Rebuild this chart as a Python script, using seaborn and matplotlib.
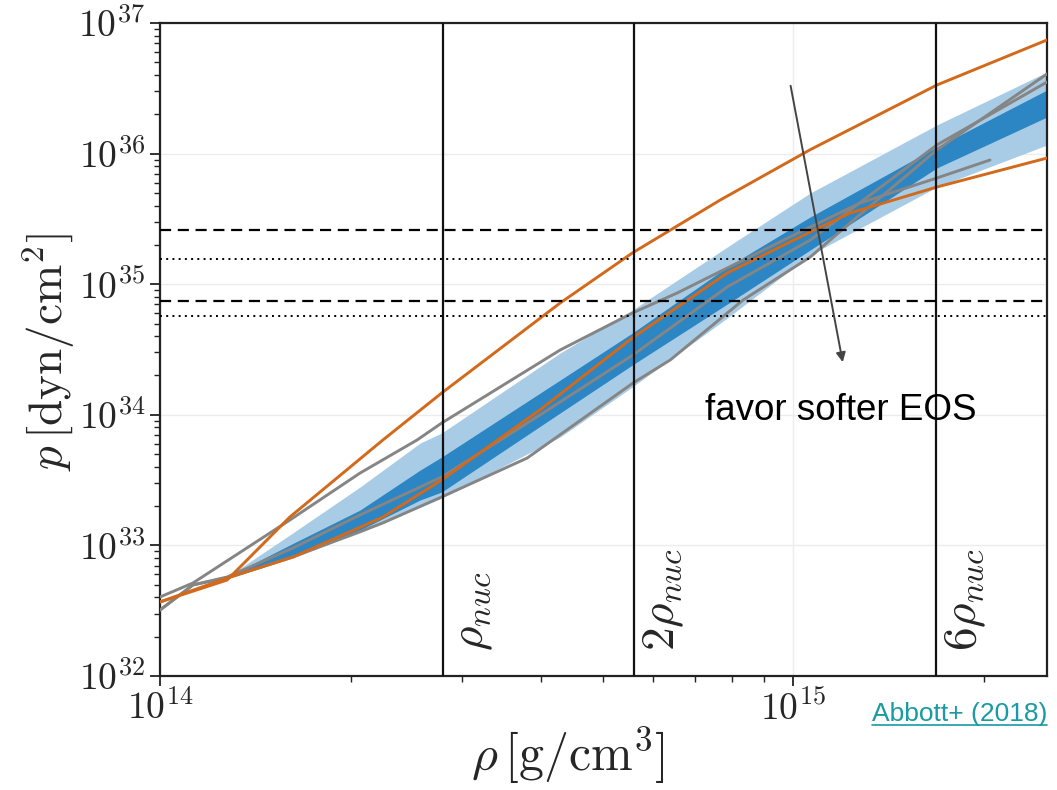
import numpy as np
import pandas as pd
import matplotlib
matplotlib.use("Agg")
import matplotlib.pyplot as plt
import seaborn as sns
from matplotlib.lines import Line2D
from matplotlib.ticker import FixedLocator, FuncFormatter, LogLocator, NullFormatter

# ---------------- data (log10 rho [g/cm^3], log10 p [dyn/cm^2]) ----------------
stiff_lrho = [14.0, 14.106, 14.205, 14.352, 14.445, 14.632, 14.746, 14.885, 15.027, 15.227, 15.401]
stiff_lp   = [32.567, 32.735, 33.217, 33.807, 34.167, 34.856, 35.239, 35.645, 36.030, 36.525, 36.870]

soft_lrho = [14.0, 14.106, 14.210, 14.352, 14.445, 14.600, 14.746, 14.896, 15.027, 15.090, 15.227, 15.401]
soft_lp   = [32.567, 32.750, 32.911, 33.217, 33.501, 34.037, 34.588, 35.086, 35.400, 35.545, 35.744, 35.966]

grayA_lrho = [14.0, 14.052, 14.205, 14.316, 14.406, 14.445, 14.632, 14.746, 14.817, 14.896, 15.011, 15.106, 15.227, 15.311]
grayA_lp   = [32.605, 32.712, 33.194, 33.554, 33.807, 33.937, 34.496, 34.779, 34.933, 35.124, 35.400, 35.622, 35.813, 35.951]

grayB_lrho = [14.0, 14.052, 14.106, 14.210, 14.316, 14.445, 14.600, 14.747, 14.896, 15.027, 15.227, 15.401]
grayB_lp   = [32.505, 32.697, 32.758, 32.980, 33.233, 33.524, 33.998, 34.458, 34.979, 35.338, 36.066, 36.548]

grayC_lrho = [14.0, 14.052, 14.111, 14.210, 14.352, 14.445, 14.580, 14.747, 14.806, 14.921, 15.027, 15.090, 15.227, 15.401]
grayC_lp   = [32.505, 32.697, 32.758, 32.911, 33.172, 33.371, 33.669, 34.243, 34.420, 34.879, 35.208, 35.469, 36.028, 36.610]

band_lrho   = [14.106, 14.205, 14.316, 14.411, 14.445, 14.632, 14.746, 14.896, 15.027, 15.227, 15.401]
band90_hi   = [32.758, 33.080, 33.447, 33.784, 33.861, 34.473, 34.802, 35.285, 35.698, 36.219, 36.625]
band90_lo   = [32.758, 32.904, 33.095, 33.294, 33.363, 33.830, 34.213, 34.741, 35.224, 35.744, 36.066]
band50_hi   = [32.758, 33.003, 33.271, 33.577, 33.677, 34.266, 34.626, 35.132, 35.515, 36.051, 36.487]
band50_lo   = [32.758, 32.911, 33.118, 33.348, 33.409, 34.014, 34.381, 34.848, 35.262, 35.890, 36.280]

rho_nuc = 2.8e14
nuc_multiples = [1, 2, 6]
nuc_labels = [r"$\rho_{nuc}$", r"$2\rho_{nuc}$", r"$6\rho_{nuc}$"]
p_dashed = [2.6e35, 7.4e34]
p_dotted = [1.56e35, 5.7e34]
arrow_start = (9.89e14, 3.47e36)
arrow_end = (1.2e15, 2.41e34)

# ---------------- style ----------------
sns.set_style("ticks")
plt.rcParams["mathtext.fontset"] = "cm"
plt.rcParams["font.family"] = ["DejaVu Sans"]

ORANGE = "#d2691b"
GRAY = "#858585"
LIGHT = "#a9cce6"
DARK = "#2c86c3"

fig = plt.figure(figsize=(10.57, 7.90), dpi=100)
ax = fig.add_axes([160/1057, 1-676/790, (1047-160)/1057, (676-23)/790])
ax.set_xscale("log")
ax.set_yscale("log")

# bands
br = 10**np.array(band_lrho)
ax.fill_between(br, 10**np.array(band90_lo), 10**np.array(band90_hi), color=LIGHT, lw=0, zorder=1)
ax.fill_between(br, 10**np.array(band50_lo), 10**np.array(band50_hi), color=DARK, lw=0, zorder=1.5)

# curves
frames = []
for name, lr, lp in [("grayA", grayA_lrho, grayA_lp), ("grayB", grayB_lrho, grayB_lp),
                     ("grayC", grayC_lrho, grayC_lp), ("soft", soft_lrho, soft_lp),
                     ("stiff", stiff_lrho, stiff_lp)]:
    frames.append(pd.DataFrame({"rho": 10**np.array(lr), "p": 10**np.array(lp), "eos": name}))
df = pd.concat(frames, ignore_index=True)
pal = {"grayA": GRAY, "grayB": GRAY, "grayC": GRAY, "soft": ORANGE, "stiff": ORANGE}
sns.lineplot(data=df, x="rho", y="p", hue="eos", palette=pal, estimator=None, sort=False,
             legend=False, lw=2.1, ax=ax, zorder=3)

# reference lines
for m in nuc_multiples:
    ax.axvline(m*rho_nuc, color="#111111", lw=1.6, zorder=4)
for v in p_dashed:
    ax.axhline(v, color="black", lw=1.6, ls=(0, (5, 3)), zorder=4)
for v in p_dotted:
    ax.axhline(v, color="black", lw=1.4, ls=(0, (1, 2.2)), zorder=4)

for m, lab in zip(nuc_multiples, nuc_labels):
    ax.text(m*rho_nuc*1.025, 10**32.19, lab, rotation=90, ha="left", va="bottom",
            fontsize=34, zorder=5)

ax.annotate("", xy=arrow_end, xytext=arrow_start,
            arrowprops=dict(arrowstyle="-|>", color="#444444", lw=1.4, mutation_scale=14),
            zorder=6)

ax.set_xlim(1e14, 10**15.401)
ax.set_ylim(1e32, 1e37)

ax.xaxis.set_major_locator(FixedLocator([1e14, 1e15]))
ax.yaxis.set_major_locator(FixedLocator([10.0**k for k in range(32, 38)]))
ax.xaxis.set_minor_locator(LogLocator(base=10, subs=np.arange(2, 10)))
ax.yaxis.set_minor_locator(LogLocator(base=10, subs=np.arange(2, 10), numticks=20))
ax.xaxis.set_minor_formatter(NullFormatter())
ax.yaxis.set_minor_formatter(NullFormatter())
fmt = FuncFormatter(lambda v, pos: r"$10^{%d}$" % int(round(np.log10(v))))
ax.xaxis.set_major_formatter(fmt)
ax.yaxis.set_major_formatter(fmt)
ax.tick_params(which="major", direction="out", length=7, width=1.3, labelsize=27, color="#222222")
ax.tick_params(which="minor", direction="out", length=4, width=1.0, color="#222222")
ax.grid(True, which="major", color="#ececec", lw=1.0, zorder=0)
for s in ax.spines.values():
    s.set_color("#222222")
    s.set_linewidth(1.6)

ax.set_xlabel(r"$\rho\,[\mathrm{g/cm^3}]$", fontsize=36)
ax.xaxis.set_label_coords((568-160)/887, -0.075, transform=ax.transAxes)
ax.xaxis.label.set_va("top")
ax.set_ylabel(r"$p\,[\mathrm{dyn/cm^2}]$", fontsize=34)
ax.yaxis.set_label_coords((49-160)/887, (676-352)/653, transform=ax.transAxes)
ax.yaxis.label.set_va("center")
ax.yaxis.label.set_ha("center")

fig.text(705/1057, 1-420/790, "favor softer EOS", family=["Liberation Sans", "DejaVu Sans"],
         fontsize=26.5, ha="left", va="baseline", color="black")
fig.text(872/1057, 1-721/790, "Abbott+ (2018)", family=["Liberation Sans", "DejaVu Sans"],
         fontsize=19, ha="left", va="baseline", color="#1a9aa3")
fig.add_artist(Line2D([872/1057, 1047/1057], [1-725/790, 1-725/790], color="#1a9aa3", lw=1.2))

fig.savefig("out.png", dpi=100)
